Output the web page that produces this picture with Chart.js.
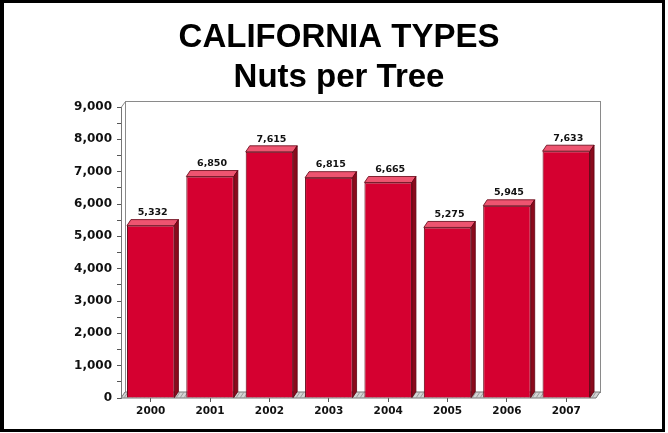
<!DOCTYPE html>
<html>
<head>
<meta charset="utf-8">
<script src="https://cdn.jsdelivr.net/npm/chart.js@4.4.1/dist/chart.umd.min.js"></script>
<style>
  html, body { margin: 0; padding: 0; background: #fff; }
  #frame {
    position: absolute; left: 0; top: 0;
    width: 658px; height: 426px;
    border: 3px solid #000; border-left-width: 4px;
  }
</style>
</head>
<body>
<div id="frame"><canvas id="nutsChart" width="658" height="426"></canvas></div>
<script>
// chart data
const years = ['2000', '2001', '2002', '2003', '2004', '2005', '2006', '2007'];
const nutsPerTree = [5332, 6850, 7615, 6815, 6665, 5275, 5945, 7633];
const titleLines = ['CALIFORNIA TYPES', 'Nuts per Tree'];
const yMax = 9000;
const yMinorStep = 500;

// 3d depth of bars / floor
const DX = 4, DY = 6;

const barFront = '#d50030';
const barTop = '#ee5470';
const barSide = '#8a0a1c';
const barEdge = '#5e0010';

// title centred on the whole picture, not on the plot
const pageTitle = {
    id: 'pageTitle',
    afterDraw(chart) {
        const { ctx } = chart;
        ctx.save();
        ctx.fillStyle = '#000';
        ctx.font = 'bold 33px "Liberation Sans", Arial';
        ctx.textAlign = 'center';
        ctx.textBaseline = 'middle';
        ctx.fillText(titleLines[0], 335, 35);
        ctx.fillText(titleLines[1], 335, 75);
        ctx.restore();
    }
};

const fakeDepth = {
    id: 'fakeDepth',
    beforeDatasetsDraw(chart) {
        const { ctx, chartArea: a } = chart;
        ctx.save();
        // back wall
        ctx.strokeStyle = '#8a8a8a';
        ctx.lineWidth = 1;
        ctx.strokeRect(a.left + DX + 0.5, a.top - DY + 0.5, a.right - a.left, a.bottom - a.top);
        ctx.beginPath();
        ctx.moveTo(a.left + 0.5, a.top);
        ctx.lineTo(a.left + DX + 0.5, a.top - DY + 0.5);
        ctx.stroke();
        // floor
        ctx.beginPath();
        ctx.moveTo(a.left, a.bottom);
        ctx.lineTo(a.right, a.bottom);
        ctx.lineTo(a.right + DX, a.bottom - DY);
        ctx.lineTo(a.left + DX, a.bottom - DY);
        ctx.closePath();
        ctx.fillStyle = '#d4d4d4';
        ctx.fill();
        ctx.strokeStyle = '#777';
        ctx.stroke();
        // hatch on floor
        ctx.beginPath();
        for (let x = a.left + 3; x < a.right; x += 4) {
            ctx.moveTo(x, a.bottom);
            ctx.lineTo(x + DX, a.bottom - DY);
        }
        ctx.strokeStyle = '#9a9a9a';
        ctx.stroke();
        ctx.restore();
    },
    afterDatasetsDraw(chart) {
        const { ctx } = chart;
        const meta = chart.getDatasetMeta(0);
        ctx.save();
        ctx.lineWidth = 0.8;
        ctx.strokeStyle = barEdge;
        meta.data.forEach((bar, i) => {
            const { x, y, width, base } = bar.getProps(['x', 'y', 'width', 'base'], true);
            const l = x - width / 2, r = x + width / 2;
            // top
            ctx.beginPath();
            ctx.moveTo(l, y);
            ctx.lineTo(l + DX, y - DY);
            ctx.lineTo(r + DX, y - DY);
            ctx.lineTo(r, y);
            ctx.closePath();
            ctx.fillStyle = barTop;
            ctx.fill();
            ctx.stroke();
            // side
            ctx.beginPath();
            ctx.moveTo(r, y);
            ctx.lineTo(r + DX, y - DY);
            ctx.lineTo(r + DX, base - DY);
            ctx.lineTo(r, base);
            ctx.closePath();
            ctx.fillStyle = barSide;
            ctx.fill();
            ctx.stroke();
            // value label
            ctx.fillStyle = '#111';
            ctx.font = 'bold 9.5px "DejaVu Sans"';
            ctx.textAlign = 'center';
            ctx.textBaseline = 'bottom';
            ctx.fillText(nutsPerTree[i].toLocaleString('en-US'), x + DX / 2, y - DY - 2);
        });
        ctx.restore();
    }
};

const ctx = document.getElementById('nutsChart').getContext('2d');
const nutsChart = new Chart(ctx, {
    type: 'bar',
    data: {
        labels: years,
        datasets: [{
            data: nutsPerTree,
            backgroundColor: barFront,
            borderColor: barEdge,
            borderWidth: 1,
            borderSkipped: 'bottom',
            barPercentage: 0.8,
            categoryPercentage: 1.0
        }]
    },
    plugins: [fakeDepth, pageTitle],
    options: {
        responsive: false,
        animation: false,
        layout: { padding: { left: 0, right: 66, top: 104, bottom: 0 } },
        plugins: {
            legend: { display: false },
            tooltip: { enabled: false },
            title: { display: false }
        },
        scales: {
            x: {
                afterFit: (s) => { s.height = 31; },
                grid: { display: true, drawOnChartArea: false, offset: false, tickLength: 4, color: '#555' },
                border: { display: false },
                ticks: {
                    color: '#111',
                    padding: 3,
                    font: { family: '"DejaVu Sans"', size: 10.5, weight: 'bold' }
                }
            },
            y: {
                min: 0,
                max: yMax,
                afterFit: (s) => { s.width = 117; },
                grid: { drawOnChartArea: false, tickLength: 4, color: '#555' },
                border: { display: true, color: '#777' },
                ticks: {
                    stepSize: yMinorStep,
                    autoSkip: false,
                    color: '#111',
                    padding: 5,
                    font: { family: '"DejaVu Sans"', size: 12, weight: 'bold' },
                    callback: (v) => v % 1000 === 0 ? v.toLocaleString('en-US') : ''
                }
            }
        }
    }
});
</script>
</body>
</html>
